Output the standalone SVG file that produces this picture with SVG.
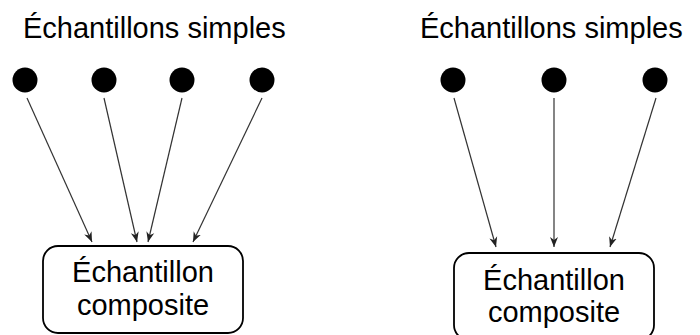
<svg xmlns="http://www.w3.org/2000/svg" width="700" height="335" viewBox="0 0 700 335">
<style>
text{font-family:"Liberation Sans",Arial,sans-serif;fill:#000}
.t{font-size:29px}
.b{font-size:29px;text-anchor:middle}
.dot{fill:#000}
.box{fill:#fff;stroke:#000;stroke-width:1.8}
.c{stroke:#333;stroke-width:1.2;fill:none;marker-end:url(#ah)}
</style>
<defs>
<marker id="ah" viewBox="0 0 10 10" refX="10" refY="5" markerWidth="10" markerHeight="10" markerUnits="userSpaceOnUse" orient="auto">
<path d="M0,1 L10,5 L0,9 L3,5 Z" fill="#222"/>
</marker>
</defs>
<g id="title-left"><text class="t" x="23" y="38">Échantillons simples</text></g>
<g id="title-right"><text class="t" x="420" y="38">Échantillons simples</text></g>
<g id="s1"><circle class="dot" cx="25" cy="80" r="12.5"/></g>
<g id="s2"><circle class="dot" cx="104" cy="80" r="12.5"/></g>
<g id="s3"><circle class="dot" cx="182" cy="80" r="12.5"/></g>
<g id="s4"><circle class="dot" cx="262" cy="80" r="12.5"/></g>
<g id="r1"><circle class="dot" cx="453" cy="80" r="12.5"/></g>
<g id="r2"><circle class="dot" cx="554" cy="80" r="12.5"/></g>
<g id="r3"><circle class="dot" cx="655" cy="80" r="12.5"/></g>
<g id="comp-left"><rect class="box" x="43" y="246" width="200" height="87" rx="15"/><text class="b" x="143" y="282">Échantillon</text><text class="b" x="143" y="315">composite</text></g>
<g id="comp-right"><rect class="box" x="454" y="253" width="200" height="87" rx="15"/><text class="b" x="554" y="290">Échantillon</text><text class="b" x="554" y="322">composite</text></g>
<g id="connectors">
<line class="c" x1="27" y1="98" x2="92" y2="242"/>
<line class="c" x1="104" y1="98" x2="137" y2="242"/>
<line class="c" x1="182" y1="98" x2="148" y2="242"/>
<line class="c" x1="262" y1="98" x2="193" y2="242"/>
<line class="c" x1="454" y1="98" x2="496" y2="247"/>
<line class="c" x1="554" y1="98" x2="554" y2="247"/>
<line class="c" x1="656" y1="98" x2="610" y2="247"/>
</g>
</svg>
